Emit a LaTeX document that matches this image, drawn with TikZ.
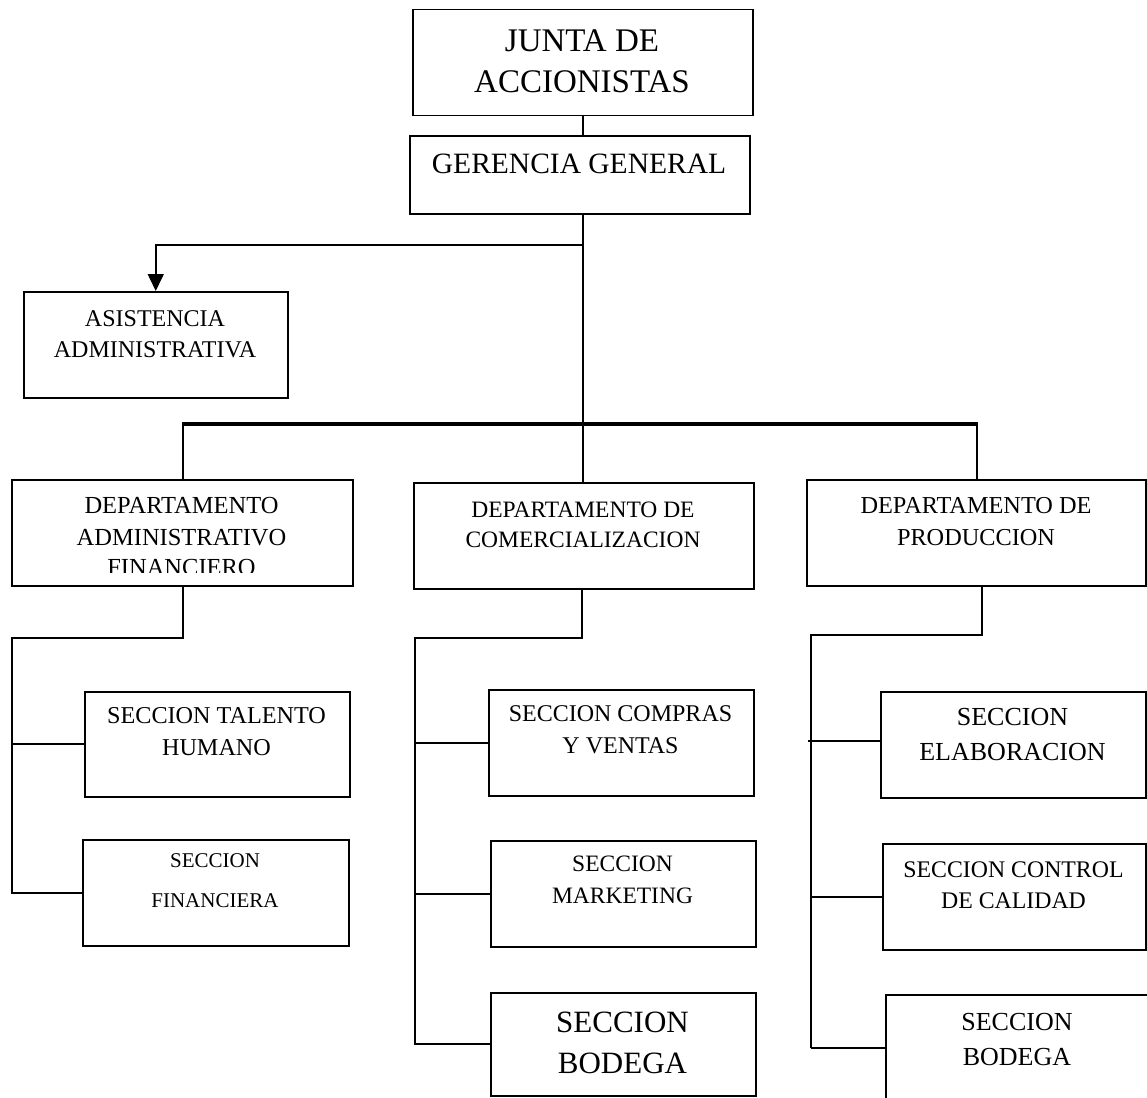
\documentclass[tikz,border=0pt]{standalone}
\usepackage{fontspec}
\setmainfont{Liberation Serif}
\usetikzlibrary{arrows.meta}
\tikzset{
  box/.style={draw, line width=1.5pt, inner sep=0pt, anchor=north west},
  conn/.style={line width=1.6pt},
  bar/.style={line width=3.6pt},
  tl/.style={anchor=base, inner sep=0pt, font=\fontsize{#1}{#1}\selectfont},
}
\begin{document}
\begin{tikzpicture}[x=1pt,y=-1pt]
\useasboundingbox (0,0) rectangle (1147,1097);
\clip (0,0) rectangle (1147,1097);
\fill[white] (0,0) rectangle (1147,1097);
% boxes
\node[box, minimum width=340, minimum height=106] (jun) at (412,9) {};
\node[box, minimum width=340, minimum height=78] (ger) at (409,135) {};
\node[box, minimum width=264, minimum height=106] (asi) at (23,291) {};
\node[box, minimum width=341, minimum height=106] (dadm) at (11,479) {};
\node[box, minimum width=340, minimum height=106] (dcom) at (413,482) {};
\node[box, minimum width=339, minimum height=106] (dpro) at (806,479) {};
\node[box, minimum width=265, minimum height=105] (stal) at (84,691) {};
\node[box, minimum width=266, minimum height=106] (sfin) at (82,839) {};
\node[box, minimum width=265, minimum height=106] (scom) at (488,689) {};
\node[box, minimum width=265, minimum height=106] (smar) at (490,840) {};
\node[box, minimum width=265, minimum height=103] (sbod) at (490,992) {};
\node[box, minimum width=265, minimum height=106] (sela) at (880,691) {};
\node[box, minimum width=263, minimum height=106] (scal) at (882,843) {};
\node[box, minimum width=300, minimum height=150] (sbo2) at (885,994) {};
% texts
\node[tl=33] (j1) at (582,52) {JUNTA DE};
\node[tl=33] (j2) at (582,93) {ACCIONISTAS};
\node[tl=29.5] (g1) at (579,173) {GERENCIA GENERAL};
\node[tl=24] (a1t) at (155,326) {ASISTENCIA};
\node[tl=24] (a2t) at (155,357) {ADMINISTRATIVA};
\node[tl=24.5] (d1) at (181.5,513) {DEPARTAMENTO};
\node[tl=24.5] (d2) at (181.5,545) {ADMINISTRATIVO};
\begin{scope}
\clip (11,479) rectangle (352,572.5);
\node[tl=24.5] (d3) at (181.5,575) {FINANCIERO};
\end{scope}
\node[tl=23.5] (c1t) at (583,517.8) {DEPARTAMENTO DE};
\node[tl=23.5] (c2t) at (583,547.8) {COMERCIALIZACION};
\node[tl=24.3] (p1t) at (976,513) {DEPARTAMENTO DE};
\node[tl=24.3] (p2t) at (976,545) {PRODUCCION};
\node[tl=24.2] (st1) at (216.5,723) {SECCION TALENTO};
\node[tl=24.2] (st2) at (216.5,755) {HUMANO};
\node[tl=21] (sf1) at (215,867) {SECCION};
\node[tl=21] (sf2) at (215,907) {FINANCIERA};
\node[tl=24] (sc1) at (620.5,721) {SECCION COMPRAS};
\node[tl=24] (sc2) at (620.5,753) {Y VENTAS};
\node[tl=23.5] (sm1) at (622.5,871.8) {SECCION};
\node[tl=23.5] (sm2) at (622.5,903.8) {MARKETING};
\node[tl=31] (sb1) at (622.5,1032.3) {SECCION};
\node[tl=31] (sb2) at (622.5,1073.3) {BODEGA};
\node[tl=26] (se1) at (1012.5,725.6) {SECCION};
\node[tl=26] (se2) at (1012.5,760.6) {ELABORACION};
\node[tl=23.8] (sq1) at (1013.5,877) {SECCION CONTROL};
\node[tl=23.8] (sq2) at (1013.5,908) {DE CALIDAD};
\node[tl=26] (sx1) at (1017,1030.6) {SECCION};
\node[tl=26] (sx2) at (1017,1065.6) {BODEGA};
% connector points
\coordinate (gsplit) at (583,245);
\coordinate (hbar) at (583,424);
\coordinate (hl) at (183,424);
\coordinate (hr) at (977,424);
\coordinate (ak) at (183,638);
\coordinate (al) at (12,638);
\coordinate (ck) at (582,638);
\coordinate (cl) at (415,638);
\coordinate (pk) at (982,635);
\coordinate (pl) at (811,635);
\coordinate (pe) at (811,1048);
\coordinate (pb) at (885,1048);
\coordinate (pa) at (808,741);
% connectors
\draw[conn] (jun.south -| hbar) -- (ger.north -| hbar);
\draw[conn] (ger.south -| hbar) -- (hbar);
\draw[conn, -{Triangle[length=17pt,width=16pt]}] (gsplit) -| (asi.north);
\draw[bar] ([xshift=-1pt]hl) -- ([xshift=1pt]hr);
\draw[conn] (hl) -- (hl |- dadm.north);
\draw[conn] (hbar) -- (hbar |- dcom.north);
\draw[conn] (hr) -- (hr |- dpro.north);
% admin branch
\draw[conn] (ak |- dadm.south) -- (ak) -- (al) -- (al |- sfin.west) -- (sfin.west);
\draw[conn] (al |- stal.west) -- (stal.west);
% comercial branch
\draw[conn] (ck |- dcom.south) -- (ck) -- (cl) -- (cl |- sbod.west) -- (sbod.west);
\draw[conn] (cl |- scom.west) -- (scom.west);
\draw[conn] (cl |- smar.west) -- (smar.west);
% produccion branch
\draw[conn] (pk |- dpro.south) -- (pk) -- (pl) -- (pe);
\draw[conn] (pa) -- (pa -| sela.west);
\draw[conn] (pl |- scal.west) -- (scal.west);
\draw[conn] (pe) -- (pb);
\end{tikzpicture}
\end{document}
